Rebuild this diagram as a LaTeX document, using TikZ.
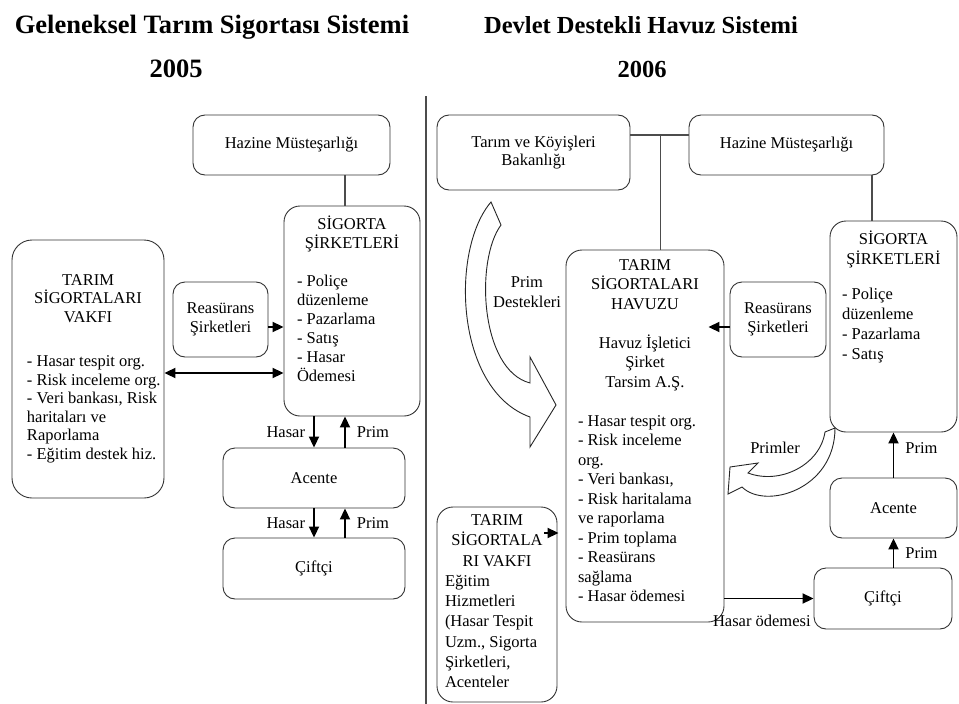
\documentclass[tikz,border=0pt]{standalone}
\usepackage{fontspec}
\setmainfont{Liberation Serif}
\usetikzlibrary{arrows.meta,calc}

\newcommand{\bodyfont}{\fontsize{16.5}{18}\selectfont}
\newcommand{\headfont}{\fontsize{26.5}{28}\selectfont\bfseries}
% #1 text width, #2 height, #3 top gap, #4 line skip, #5 heading, #6 gap, #7 list
\newcommand{\listbox}[7]{%
  \parbox[c][#2pt][t]{#1pt}{\fontsize{16.5}{#4pt}\selectfont
    \vspace*{#3pt}{\centering #5\par}\vspace{#6pt}%
    \begin{tabular}[t]{@{}l@{}}#7\end{tabular}}}

\begin{document}
\begin{tikzpicture}[x=1pt, y=-1pt,
    box/.style={draw=black!80, line width=0.9, rounded corners=12, inner sep=0,
      align=center, font=\bodyfont},
    bigbox/.style={draw=black!80, line width=0.9, rounded corners=16, inner sep=0},
    link/.style={draw=black!70, line width=1.2},
    arr/.style={-{Triangle[length=11pt,width=10pt]}, line width=1.9},
    dbl/.style={{Triangle[length=11pt,width=10pt]}-{Triangle[length=11pt,width=10pt]}, line width=1.9},
    blk/.style={draw=black!85, line width=0.9, fill=white},
    lbl/.style={font=\bodyfont, inner sep=0},
    head/.style={font=\headfont, anchor=base}]

\useasboundingbox (0,0) rectangle (959,704);

% headings
\node[head] (hdL) at (212,33) {Geleneksel Tarım Sigortası Sistemi};
\node[head] (yrL) at (176,77) {2005};
\node[head, font={\fontsize{24.5}{28}\selectfont\bfseries}] (hdR) at (641,33) {Devlet Destekli Havuz Sistemi};
\node[head, font={\fontsize{24.5}{28}\selectfont\bfseries}] (yrR) at (642,77) {2006};
\draw[link] (426,96) -- (426,704);

% 2005
\node[box, minimum width=197, minimum height=60] (hazL) at (291.5,145) {Hazine Müsteşarlığı};
\node[bigbox, minimum width=136] (sigL) at (352,311) {\listbox{110}{210}{10}{19}{SİGORTA\\ŞİRKETLERİ}{18.5}{- Poliçe\\düzenleme\\- Pazarlama\\- Satış\\- Hasar\\Ödemesi}};
\node[box, minimum width=95, minimum height=75, font={\fontsize{16.5}{19}\selectfont}] (reasL) at (220.5,319.5) {Reasürans\\Şirketleri};
\node[bigbox, rounded corners=20, minimum width=152] (vakL) at (88,369) {\listbox{122}{258}{34.6}{18.5}{TARIM\\SİGORTALARI\\VAKFI}{26}{- Hasar tespit org.\\- Risk inceleme org.\\- Veri bankası, Risk\\haritaları ve\\Raporlama\\- Eğitim destek hiz.}};
\node[box, minimum width=182, minimum height=60] (aceL) at (314,478) {Acente};
\node[box, minimum width=182, minimum height=61] (cifL) at (314,568.5) {Çiftçi};

\coordinate (sL) at ($(sigL.north)+(-7,0)$);
\draw[link] (sL) -- (sL |- hazL.south);
\coordinate (rL) at ($(reasL.east)+(0,7.5)$);
\draw[arr] (rL) -- (rL -| sigL.west);
\coordinate (vL) at ($(vakL.east)+(0,4)$);
\draw[dbl] (vL) -- (vL -| sigL.west);

\draw[arr] (aceL.north |- sigL.south) -- (aceL.north) node[midway, left=8pt, lbl] (hL1) {Hasar};
\coordinate (pL) at ($(aceL.north)+(31,0)$);
\draw[arr] (pL) -- (pL |- sigL.south) node[midway, right=11pt, lbl] (pL1) {Prim};
\draw[arr] (cifL.north |- aceL.south) -- (cifL.north) node[midway, left=8pt, lbl] (hL2) {Hasar};
\coordinate (pL2) at ($(cifL.north)+(31,0)$);
\draw[arr] (pL2) -- (pL2 |- aceL.south) node[midway, right=11pt, lbl] (pL2t) {Prim};

% 2006
\node[box, minimum width=193, minimum height=75] (bak) at (533.5,152.5) {Tarım ve Köyişleri\\Bakanlığı};
\node[box, minimum width=195, minimum height=60] (hazR) at (786.5,145) {Hazine Müsteşarlığı};
\node[bigbox, minimum width=158] (havuz) at (645,436) {\listbox{134}{372}{9.6}{19.5}{TARIM\\SİGORTALARI\\HAVUZU\\[19.5pt]Havuz İşletici\\Şirket\\Tarsim A.Ş.}{19.5}{- Hasar tespit org.\\- Risk inceleme\\org.\\- Veri bankası,\\- Risk haritalama\\ve raporlama\\- Prim toplama\\- Reasürans\\sağlama\\- Hasar ödemesi}};
\node[box, minimum width=96, minimum height=75, font={\fontsize{16.5}{19}\selectfont}] (reasR) at (778,319.5) {Reasürans\\Şirketleri};
\node[bigbox, minimum width=127] (sigR) at (893.5,326.5) {\listbox{103}{211}{9.5}{20}{SİGORTA\\ŞİRKETLERİ}{15}{- Poliçe\\düzenleme\\- Pazarlama\\- Satış}};
\node[box, minimum width=127, minimum height=60] (aceR) at (893.5,508) {Acente};
\node[box, minimum width=138, minimum height=61] (cifR) at (883,598.5) {Çiftçi};
\node[bigbox, minimum width=120] (vakR) at (497,604.5) {\listbox{104}{195}{7.6}{20.3}{TARIM\\SİGORTALA\\RI VAKFI}{0}{Eğitim\\Hizmetleri\\(Hasar Tespit\\Uzm., Sigorta\\Şirketleri,\\Acenteler}};

\coordinate (jn) at ($(bak.east)+(0,-17.5)$);
\draw[link] (jn) -- (jn -| hazR.west);
\coordinate (jv) at ($(jn)+(30,0)$);
\draw[link] (jv) -- (jv |- havuz.north);
\coordinate (sR) at ($(sigR.north)+(-21.5,0)$);
\draw[link] (sR) -- (sR |- hazR.south);
\coordinate (rR) at ($(reasR.west)+(0,7.5)$);
\draw[arr] (rR) -- ($(rR -| havuz.east)+(-16,0)$);
\draw[arr] (aceR.north) -- (aceR.north |- sigR.south) node[pos=0.65, right=11pt, lbl] (pR1) {Prim};
\draw[arr] (cifR.north -| aceR.south) -- (aceR.south) node[midway, right=11pt, lbl] (pR2) {Prim};
\draw[arr] (havuz.east |- cifR.west) -- (cifR.west) node[pos=1, anchor=north east, lbl, yshift=-16pt, xshift=-2pt] (hod) {Hasar ödemesi};
\coordinate (vk) at ($(vakR.east)+(-13,-71.5)$);
\draw[arr] (vk) -- ($(vk -| havuz.west)+(-7,0)$);

% curved arrows
\draw[blk] (491,202) -- (501,225) .. controls (475,260) and (480,370) .. (530,383)
  -- (530,357) -- (556,405) -- (530,447) -- (530,417)
  .. controls (455,390) and (450,250) .. (491,202) -- cycle;
\node[lbl, align=center, font={\fontsize{16.5}{20}\selectfont}] (pds) at (527,292) {Prim\\Destekleri};
\draw[blk] (825,432) -- (835,428) .. controls (835,490) and (765,510) .. (742,487)
  -- (728,494) -- (730,467) -- (758,463) -- (748,473)
  .. controls (780,485) and (820,465) .. (825,432) -- cycle;
\node[lbl] (prl) at (775,448) {Primler};
\end{tikzpicture}
\end{document}
